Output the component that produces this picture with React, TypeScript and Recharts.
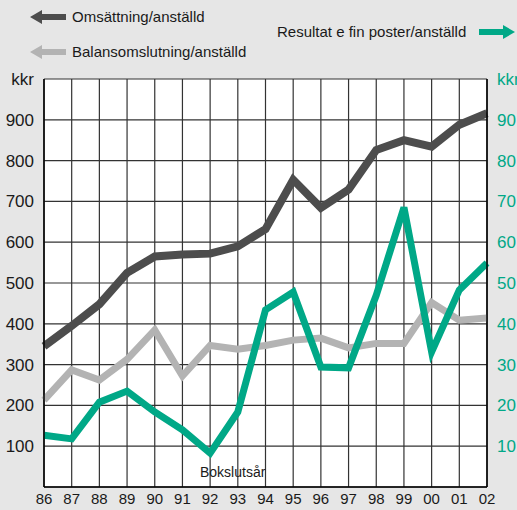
import React from "react";
import { LineChart, Line, XAxis, YAxis, CartesianGrid } from "recharts";

const years = ["86", "87", "88", "89", "90", "91", "92", "93", "94", "95", "96", "97", "98", "99", "00", "01", "02"];
const omsattning = [345, 395, 448, 525, 565, 570, 572, 590, 632, 753, 684, 729, 826, 850, 834, 888, 916];
const balans = [213, 287, 262, 313, 385, 272, 347, 338, 347, 360, 365, 341, 352, 352, 452, 409, 414];
const resultat = [12.7, 11.8, 20.8, 23.5, 18.4, 14, 8.3, 18.4, 43.4, 47.8, 29.4, 29.2, 47, 68.5, 33.1, 48.3, 54.9];
const leftTicks = [0, 100, 200, 300, 400, 500, 600, 700, 800, 900, 1000];
const rightTicks = [0, 10, 20, 30, 40, 50, 60, 70, 80, 90, 100];

const data = years.map((y, i) => ({
  year: y,
  oms: omsattning[i],
  bal: balans[i],
  res: resultat[i],
}));

const FONT = '"Liberation Sans", Arial, Helvetica, sans-serif';
const DARK = "#4d4d4d";
const LIGHT = "#b3b3b3";
const TEAL = "#00a887";

function Arrow({ color, dir }: { color: string; dir: "left" | "right" }) {
  // 36 x 14 arrow, shaft 6px thick
  const pts = dir === "left"
    ? "0,7 12,0 12,4 36,4 36,10 12,10 12,14"
    : "36,7 24,0 24,4 0,4 0,10 24,10 24,14";
  return (
    <svg width={36} height={14} style={{ display: "block" }}>
      <polygon points={pts} fill={color} />
    </svg>
  );
}

const labelStyle: React.CSSProperties = {
  position: "absolute",
  fontFamily: FONT,
  fontSize: 15,
  color: "#1a1a1a",
  lineHeight: "18px",
  whiteSpace: "nowrap",
};

export default function App() {
  return (
    <div style={{ position: "relative", width: 517, height: 510, background: "#e6e6e6", fontFamily: FONT }}>
      <style>{"body{margin:0}"}</style>

      {/* legend */}
      <div style={{ position: "absolute", left: 30, top: 10 }}><Arrow color={DARK} dir="left" /></div>
      <div style={{ ...labelStyle, left: 72, top: 8 }}>Omsättning/anställd</div>
      <div style={{ position: "absolute", left: 30, top: 45 }}><Arrow color={LIGHT} dir="left" /></div>
      <div style={{ ...labelStyle, left: 72, top: 43 }}>Balansomslutning/anställd</div>
      <div style={{ ...labelStyle, left: 277, top: 23 }}>Resultat e fin poster/anställd</div>
      <div style={{ position: "absolute", left: 479, top: 25 }}><Arrow color={TEAL} dir="right" /></div>

      <LineChart
        width={517}
        height={510}
        data={data}
        margin={{ top: 79, right: 0, bottom: 0, left: 0 }}
      >
        <CartesianGrid yAxisId="left" stroke="#333" strokeWidth={1.2} fill="#fff" fillOpacity={1} />
        <XAxis
          dataKey="year"
          height={23}
          axisLine={{ stroke: "#000", strokeWidth: 1.5 }}
          tickLine={false}
          tickMargin={0}
          interval={0}
          tick={{ fill: "#1a1a1a", fontSize: 15, fontFamily: FONT }}
        />
        <YAxis
          yAxisId="left"
          orientation="left"
          domain={[0, 1000]}
          ticks={leftTicks}
          width={44}
          axisLine={{ stroke: "#000", strokeWidth: 1.5 }}
          tickLine={false}
          tickMargin={4}
          interval={0}
          tick={{ fill: "#1a1a1a", fontSize: 17, fontFamily: FONT }}
          tickFormatter={(v: number) => (v === 1000 ? "kkr" : v === 0 ? "" : String(v))}
        />
        <YAxis
          yAxisId="right"
          orientation="right"
          domain={[0, 100]}
          ticks={rightTicks}
          width={30}
          axisLine={{ stroke: "#000", strokeWidth: 1.5 }}
          tickLine={false}
          tickMargin={4}
          interval={0}
          tick={{ fill: TEAL, fontSize: 17, fontFamily: FONT }}
          tickFormatter={(v: number) => (v === 100 ? "kkr" : v === 0 ? "" : String(v))}
        />
        <Line yAxisId="left" type="linear" dataKey="bal" stroke={LIGHT} strokeWidth={7} dot={false} isAnimationActive={false} />
        <Line yAxisId="left" type="linear" dataKey="oms" stroke={DARK} strokeWidth={8} dot={false} isAnimationActive={false} />
        <Line yAxisId="right" type="linear" dataKey="res" stroke={TEAL} strokeWidth={7} dot={false} isAnimationActive={false} />
      </LineChart>

      <div style={{ ...labelStyle, left: 200, top: 463, fontSize: 14 }}>Bokslutsår</div>
    </div>
  );
}
